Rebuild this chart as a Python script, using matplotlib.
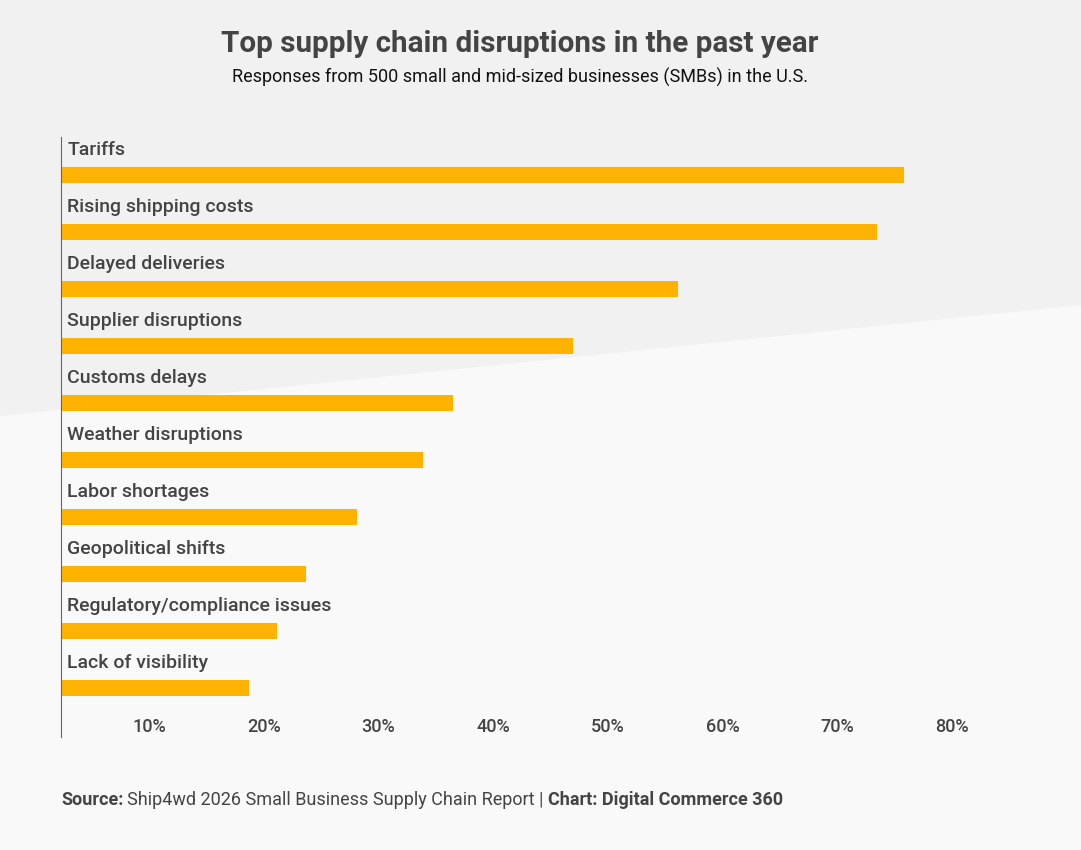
import matplotlib.pyplot as plt
from matplotlib.patches import Polygon

plt.rcParams['font.family'] = ['Roboto', 'DejaVu Sans']

categories = ["Tariffs", "Rising shipping costs", "Delayed deliveries", "Supplier disruptions",
              "Customs delays", "Weather disruptions", "Labor shortages", "Geopolitical shifts",
              "Regulatory/compliance issues", "Lack of visibility"]
values = [75.8, 73.5, 56.1, 47.0, 36.5, 33.9, 28.1, 23.7, 21.1, 18.7]
ticks = [10, 20, 30, 40, 50, 60, 70, 80]

W, H = 1081, 850
fig = plt.figure(figsize=(W / 100, H / 100), dpi=100)
fig.patch.set_facecolor("#f9f9f9")
fig.patches.append(Polygon([(0, 1), (1, 1), (1, 1 - 305 / H), (0, 1 - 416 / H)],
                           closed=True, transform=fig.transFigure, facecolor="#f1f1f1",
                           edgecolor="none", zorder=-10))

ax = fig.add_axes([61 / W, 1 - 737 / H, (1009 - 61) / W, (737 - 137) / H])
ax.set_facecolor("none")
ax.set_xlim(2.3, 85)
ax.set_ylim(9.86, -0.667)
ys = range(len(categories))
ax.barh(ys, values, height=0.28, color="#ffb300", zorder=2)
for y, name in zip(ys, categories):
    ax.text(2.85, y - 0.44, name, fontsize=14, fontweight="medium", color="#444444",
            va="center", ha="left")

for s in ["top", "right", "bottom"]:
    ax.spines[s].set_visible(False)
ax.spines["left"].set_color("#666666")
ax.set_yticks([])
ax.set_xticks(ticks)
ax.set_xticklabels([f"{t}%" for t in ticks], fontsize=13, fontweight="medium", color="#444444")
ax.tick_params(axis="x", length=0, pad=-14)

fig.text(520 / W, 1 - 44 / H, "Top supply chain disruptions in the past year", ha="center",
         va="center", fontsize=21.3, fontweight="bold", color="#444444")
fig.text(520 / W, 1 - 77 / H, "Responses from 500 small and mid-sized businesses (SMBs) in the U.S.",
         ha="center", va="center", fontsize=13, color="#111111")
src = fig.text(61 / W, 1 - 800 / H, "Source:", ha="left", va="center", fontsize=13,
               fontweight="bold", color="#444444")
fig.canvas.draw()
bb = src.get_window_extent()
t2 = fig.text(bb.x1 / W + 4 / W, 1 - 800 / H, "Ship4wd 2026 Small Business Supply Chain Report | ",
              ha="left", va="center", fontsize=13, color="#444444")
bb2 = t2.get_window_extent()
fig.text(bb2.x1 / W, 1 - 800 / H, "Chart: Digital Commerce 360", ha="left", va="center",
         fontsize=13, fontweight="bold", color="#444444")

fig.savefig("out.png", dpi=100, facecolor=fig.get_facecolor())
